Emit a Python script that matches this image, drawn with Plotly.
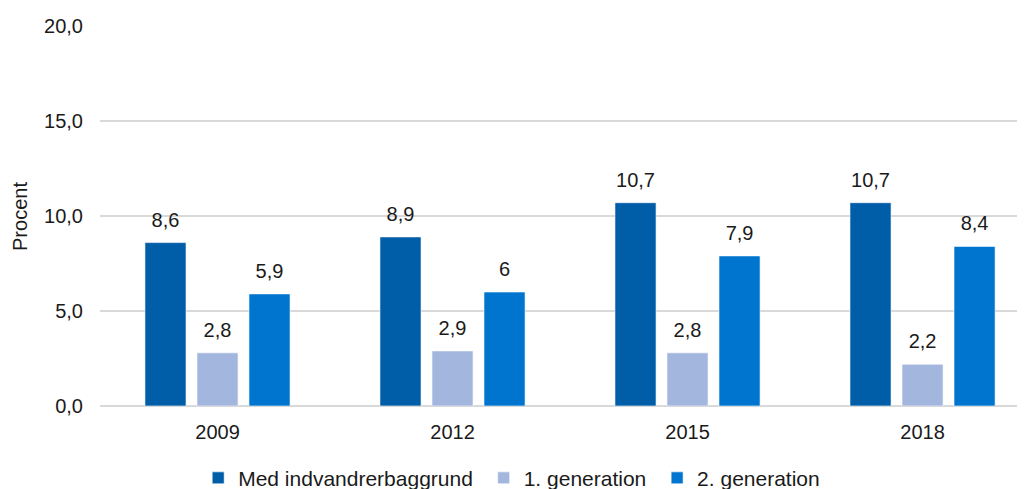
import plotly.graph_objects as go

years = ["2009", "2012", "2015", "2018"]
med_baggrund = [8.6, 8.9, 10.7, 10.7]
gen1 = [2.8, 2.9, 2.8, 2.2]
gen2 = [5.9, 6.0, 7.9, 8.4]

series = [
    ("Med indvandrerbaggrund", med_baggrund, "#005DA8"),
    ("1. generation", gen1, "#A3B6DE"),
    ("2. generation", gen2, "#0075CF"),
]

FONT = "Liberation Sans, Arial, sans-serif"
GRID = "#D9D9D9"
FS = 20


def _label(v):
    return f"{v:g}".replace(".", ",")


fig = go.Figure()
for i, (name, vals, color) in enumerate(series):
    fig.add_trace(go.Bar(
        x=years, y=vals,
        # trailing nbsp widens the gap between legend entries a little
        name=name + ("\u00a0" if i < len(series) - 1 else ""),
        marker=dict(color=color, line=dict(color="rgba(255,255,255,0.6)", width=1)),
        offsetgroup=name,
    ))
# data labels as grouped text-only scatter, so the gap above the bars can be tuned
for name, vals, color in series:
    fig.add_trace(go.Scatter(
        x=years, y=vals, mode="markers+text", showlegend=False,
        text=[_label(v) for v in vals], textposition="top center",
        textfont=dict(size=FS, color="#1a1a1a", family=FONT),
        marker=dict(size=16, color="rgba(0,0,0,0)"),
        offsetgroup=name, hoverinfo="skip",
    ))

# page body has an 8px margin, so the figure is sized/offset to fill 1025x489
fig.update_layout(
    width=1017, height=481,
    paper_bgcolor="white", plot_bgcolor="white",
    font=dict(family=FONT, size=FS, color="#1a1a1a"),
    margin=dict(l=92, r=0, t=18, b=83, autoexpand=False),
    barmode="group", bargap=0.336, bargroupgap=0.21,
    scattermode="group", scattergap=0.336,
    separators=",.",
    showlegend=True,
    # legend sits partly below the page edge, as in the original
    legend=dict(orientation="h", xref="container", x=0.187, xanchor="left",
                yref="paper", y=-0.19, yanchor="middle",
                font=dict(size=21), itemwidth=30, tracegroupgap=0),
    xaxis=dict(range=[-0.5, 3.436], showgrid=False, ticks="", showline=False,
               ticklabelstandoff=12, tickfont=dict(size=FS)),
    yaxis=dict(range=[0, 20], dtick=5, tickformat=".1f", gridcolor=GRID, gridwidth=2,
               zeroline=True, zerolinecolor=GRID, zerolinewidth=2, ticks="",
               ticklabelstandoff=16, tickfont=dict(size=FS)),
    # axis title as an annotation: with autoexpand off the built-in title lands wrong
    annotations=[dict(text="Procent", xref="paper", yref="paper", x=-0.0865, y=0.5,
                      xanchor="center", yanchor="middle", textangle=-90,
                      showarrow=False, font=dict(size=FS))],
)

fig.write_html("out.html")
